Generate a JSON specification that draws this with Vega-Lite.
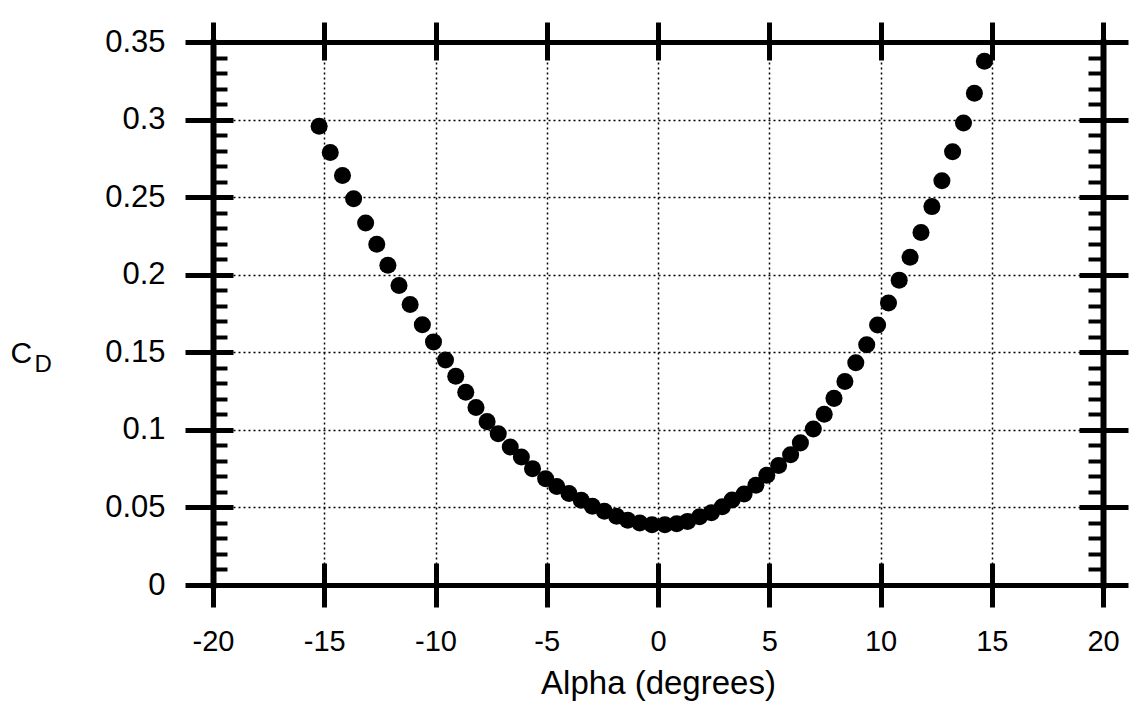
{
  "$schema": "https://vega.github.io/schema/vega-lite/v6.json",
  "autosize": {"type": "none"},
  "width": 890,
  "height": 543,
  "padding": {"left": 213, "top": 42, "right": 35, "bottom": 120},
  "background": "white",
  "config": {
    "view": {"stroke": null},
    "axis": {
      "labelFont": "Liberation Sans",
      "titleFont": "Liberation Sans",
      "labelColor": "black",
      "titleColor": "black",
      "tickColor": "black",
      "domainColor": "black",
      "labelFlush": false,
      "labelOverlap": false,
      "titleFontWeight": "normal"
    }
  },
  "data": {
    "values": [
      {"alpha": -15.23, "cd": 0.2957},
      {"alpha": -14.73, "cd": 0.2788},
      {"alpha": -14.18, "cd": 0.2639},
      {"alpha": -13.68, "cd": 0.2489},
      {"alpha": -13.14, "cd": 0.2334},
      {"alpha": -12.64, "cd": 0.2197},
      {"alpha": -12.14, "cd": 0.2061},
      {"alpha": -11.64, "cd": 0.1931},
      {"alpha": -11.14, "cd": 0.1808},
      {"alpha": -10.59, "cd": 0.1678},
      {"alpha": -10.09, "cd": 0.1567},
      {"alpha": -9.55, "cd": 0.1450},
      {"alpha": -9.09, "cd": 0.1346},
      {"alpha": -8.64, "cd": 0.1242},
      {"alpha": -8.18, "cd": 0.1144},
      {"alpha": -7.68, "cd": 0.1053},
      {"alpha": -7.18, "cd": 0.0975},
      {"alpha": -6.64, "cd": 0.0890},
      {"alpha": -6.14, "cd": 0.0825},
      {"alpha": -5.64, "cd": 0.0750},
      {"alpha": -5.05, "cd": 0.0685},
      {"alpha": -4.55, "cd": 0.0635},
      {"alpha": -4.00, "cd": 0.0590},
      {"alpha": -3.45, "cd": 0.0546},
      {"alpha": -2.95, "cd": 0.0508},
      {"alpha": -2.41, "cd": 0.0475},
      {"alpha": -1.86, "cd": 0.0443},
      {"alpha": -1.36, "cd": 0.0418},
      {"alpha": -0.82, "cd": 0.0400},
      {"alpha": -0.27, "cd": 0.0389},
      {"alpha": 0.31, "cd": 0.0388},
      {"alpha": 0.84, "cd": 0.0395},
      {"alpha": 1.33, "cd": 0.0410},
      {"alpha": 1.87, "cd": 0.0440},
      {"alpha": 2.40, "cd": 0.0466},
      {"alpha": 2.89, "cd": 0.0504},
      {"alpha": 3.33, "cd": 0.0548},
      {"alpha": 3.87, "cd": 0.0586},
      {"alpha": 4.40, "cd": 0.0643},
      {"alpha": 4.89, "cd": 0.0707},
      {"alpha": 5.42, "cd": 0.0770},
      {"alpha": 5.96, "cd": 0.0839},
      {"alpha": 6.40, "cd": 0.0916},
      {"alpha": 6.98, "cd": 0.1005},
      {"alpha": 7.47, "cd": 0.1101},
      {"alpha": 7.91, "cd": 0.1203},
      {"alpha": 8.40, "cd": 0.1312},
      {"alpha": 8.89, "cd": 0.1433},
      {"alpha": 9.38, "cd": 0.1549},
      {"alpha": 9.87, "cd": 0.1676},
      {"alpha": 10.36, "cd": 0.1818},
      {"alpha": 10.84, "cd": 0.1965},
      {"alpha": 11.33, "cd": 0.2112},
      {"alpha": 11.82, "cd": 0.2272},
      {"alpha": 12.31, "cd": 0.2439},
      {"alpha": 12.76, "cd": 0.2606},
      {"alpha": 13.24, "cd": 0.2792},
      {"alpha": 13.73, "cd": 0.2978},
      {"alpha": 14.22, "cd": 0.3170},
      {"alpha": 14.67, "cd": 0.3376}
    ]
  },
  "resolve": {"axis": {"x": "independent", "y": "independent"}},
  "layer": [
    {
      "mark": {"type": "point", "filled": true, "color": "black", "size": 290, "opacity": 1},
      "encoding": {
        "x": {
          "field": "alpha", "type": "quantitative",
          "scale": {"domain": [-20, 20], "nice": false, "zero": false},
          "axis": {
            "orient": "bottom",
            "values": [-20, -15, -10, -5, 0, 5, 10, 15, 20],
            "grid": true, "gridColor": "black", "gridDash": [2, 3], "gridWidth": 1.5, "gridOpacity": 1,
            "tickSize": 22, "tickWidth": 5,
            "domain": true, "domainWidth": 5, "domainCap": "square",
            "labelFontSize": 29, "labelPadding": 20,
            "labelExpr": "datum.value < 0 ? '-' + abs(datum.value) : '' + datum.value",
            "title": "Alpha (degrees)", "titleFontSize": 33,
            "titleY": 108, "titleBaseline": "alphabetic"
          }
        },
        "y": {
          "field": "cd", "type": "quantitative",
          "scale": {"domain": [0, 0.35], "nice": false, "zero": true},
          "axis": {
            "orient": "left",
            "values": [0, 0.05, 0.1, 0.15, 0.2, 0.25, 0.3, 0.35],
            "grid": true, "gridColor": "black", "gridDash": [2, 3], "gridWidth": 1.5, "gridOpacity": 1,
            "tickSize": 28, "tickWidth": 5,
            "domain": true, "domainWidth": 6, "domainCap": "square",
            "labelFontSize": 31, "labelPadding": 20,
            "labelExpr": "'' + datum.value",
            "title": "C", "titleFontSize": 30, "titleAngle": 0,
            "titleAlign": "left", "titleBaseline": "alphabetic",
            "titleX": -203, "titleY": 320
          }
        }
      }
    },
    {
      "mark": {"type": "point", "opacity": 0},
      "encoding": {
        "x": {
          "field": "alpha", "type": "quantitative",
          "scale": {"domain": [-20, 20], "nice": false, "zero": false},
          "axis": {
            "orient": "top", "values": [-20, -15, -10, -5, 0, 5, 10, 15, 20],
            "grid": false, "labels": false, "title": null,
            "tickSize": 20, "tickWidth": 5,
            "domain": true, "domainWidth": 5, "domainCap": "square"
          }
        },
        "y": {
          "field": "cd", "type": "quantitative",
          "scale": {"domain": [0, 0.35], "nice": false, "zero": true},
          "axis": {
            "orient": "right", "values": [0, 0.05, 0.1, 0.15, 0.2, 0.25, 0.3, 0.35],
            "grid": false, "labels": false, "title": null,
            "tickSize": 25, "tickWidth": 5,
            "domain": true, "domainWidth": 6, "domainCap": "square"
          }
        }
      }
    },
    {
      "mark": {"type": "point", "opacity": 0},
      "encoding": {
        "x": {
          "field": "alpha", "type": "quantitative",
          "scale": {"domain": [-20, 20], "nice": false, "zero": false},
          "axis": {
            "orient": "bottom", "values": [-20, -15, -10, -5, 0, 5, 10, 15, 20],
            "grid": false, "labels": false, "title": null, "domain": false,
            "tickSize": -22, "tickWidth": 5
          }
        },
        "y": {
          "field": "cd", "type": "quantitative",
          "scale": {"domain": [0, 0.35], "nice": false, "zero": true},
          "axis": {
            "orient": "left", "values": [0, 0.05, 0.1, 0.15, 0.2, 0.25, 0.3, 0.35],
            "grid": false, "labels": false, "title": null, "domain": false,
            "tickSize": -20, "tickWidth": 5
          }
        }
      }
    },
    {
      "mark": {"type": "point", "opacity": 0},
      "encoding": {
        "x": {
          "field": "alpha", "type": "quantitative",
          "scale": {"domain": [-20, 20], "nice": false, "zero": false},
          "axis": {
            "orient": "top", "values": [-20, -15, -10, -5, 0, 5, 10, 15, 20],
            "grid": false, "labels": false, "title": null, "domain": false,
            "tickSize": -18, "tickWidth": 5
          }
        },
        "y": {
          "field": "cd", "type": "quantitative",
          "scale": {"domain": [0, 0.35], "nice": false, "zero": true},
          "axis": {
            "orient": "right", "values": [0, 0.05, 0.1, 0.15, 0.2, 0.25, 0.3, 0.35],
            "grid": false, "labels": false, "title": null, "domain": false,
            "tickSize": -24, "tickWidth": 5
          }
        }
      }
    },
    {
      "mark": {"type": "point", "opacity": 0},
      "encoding": {
        "x": {
          "field": "alpha", "type": "quantitative",
          "scale": {"domain": [-20, 20], "nice": false, "zero": false},
          "axis": null
        },
        "y": {
          "field": "cd", "type": "quantitative",
          "scale": {"domain": [0, 0.35], "nice": false, "zero": true},
          "axis": {
            "orient": "left",
            "values": [0.01, 0.02, 0.03, 0.04, 0.06, 0.07, 0.08, 0.09, 0.11, 0.12, 0.13, 0.14, 0.16, 0.17, 0.18, 0.19, 0.21, 0.22, 0.23, 0.24, 0.26, 0.27, 0.28, 0.29, 0.31, 0.32, 0.33, 0.34],
            "grid": false, "labels": false, "domain": false,
            "tickSize": -14, "tickWidth": 4,
            "title": "D", "titleFontSize": 24, "titleAngle": 0,
            "titleAlign": "left", "titleBaseline": "alphabetic",
            "titleX": -179, "titleY": 329
          }
        }
      }
    },
    {
      "mark": {"type": "point", "opacity": 0},
      "encoding": {
        "x": {
          "field": "alpha", "type": "quantitative",
          "scale": {"domain": [-20, 20], "nice": false, "zero": false},
          "axis": null
        },
        "y": {
          "field": "cd", "type": "quantitative",
          "scale": {"domain": [0, 0.35], "nice": false, "zero": true},
          "axis": {
            "orient": "right",
            "values": [0.01, 0.02, 0.03, 0.04, 0.06, 0.07, 0.08, 0.09, 0.11, 0.12, 0.13, 0.14, 0.16, 0.17, 0.18, 0.19, 0.21, 0.22, 0.23, 0.24, 0.26, 0.27, 0.28, 0.29, 0.31, 0.32, 0.33, 0.34],
            "grid": false, "labels": false, "domain": false, "title": null,
            "tickSize": -15, "tickWidth": 4
          }
        }
      }
    }
  ]
}
